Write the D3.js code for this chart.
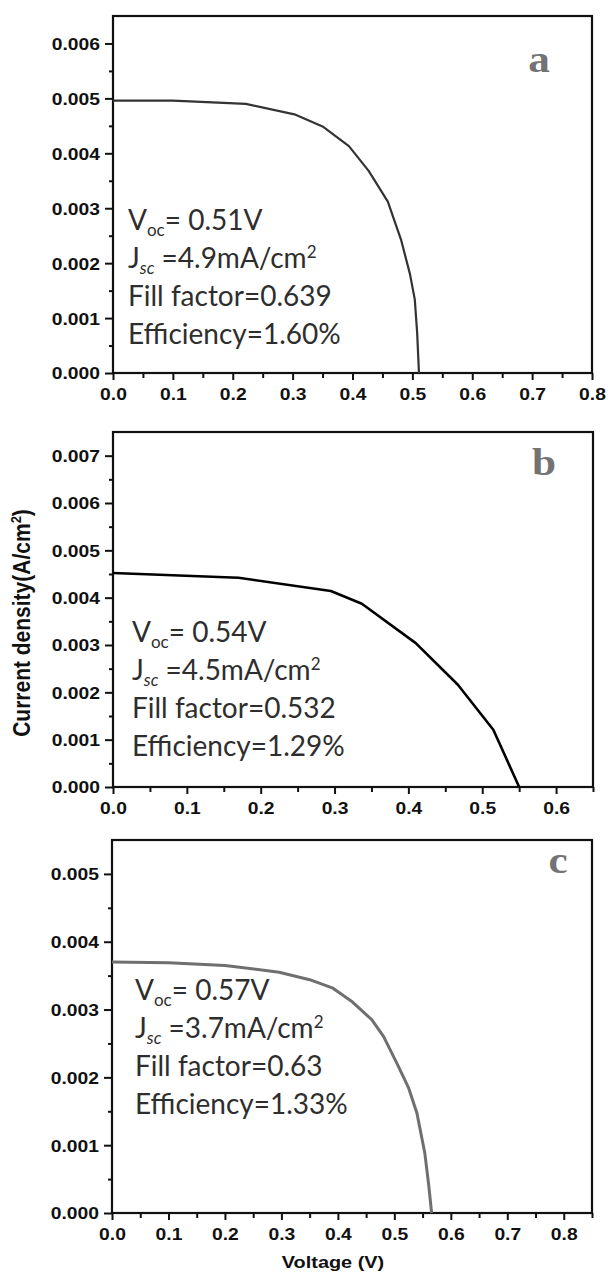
<!DOCTYPE html>
<html>
<head>
<meta charset="utf-8">
<script src="https://cdn.jsdelivr.net/npm/d3@7"></script>
<style>
  body { margin: 0; background: #fff; }
  svg { display: block; }
</style>
</head>
<body>
<svg id="chart" width="608" height="1274"></svg>
<script>
// J-V curves (voltage in V, current density in A/cm2)
const voltA = [0, 0.1, 0.222, 0.303, 0.35, 0.394, 0.427, 0.459, 0.481, 0.496, 0.504, 0.508, 0.511];
const currA = [0.00496, 0.00496, 0.0049, 0.00471, 0.00449, 0.00413, 0.00368, 0.00312, 0.00243, 0.0018, 0.00134, 0.00073, 0];

const voltB = [0, 0.17, 0.295, 0.337, 0.41, 0.467, 0.515, 0.55];
const currB = [0.00452, 0.00442, 0.00414, 0.00387, 0.00304, 0.00216, 0.00121, 0];

const voltC = [0, 0.1, 0.2, 0.296, 0.35, 0.39, 0.426, 0.46, 0.481, 0.505, 0.525, 0.54, 0.554, 0.561, 0.566];
const currC = [0.0037, 0.00369, 0.00365, 0.00355, 0.00344, 0.00332, 0.00311, 0.00285, 0.0026, 0.0022, 0.00185, 0.00147, 0.00088, 0.0004, 0];

// tick labels
const yTicksA = [0, 0.001, 0.002, 0.003, 0.004, 0.005, 0.006];
const yTicksB = [0, 0.001, 0.002, 0.003, 0.004, 0.005, 0.006, 0.007];
const yTicksC = [0, 0.001, 0.002, 0.003, 0.004, 0.005];
const xTicksA = [0, 0.1, 0.2, 0.3, 0.4, 0.5, 0.6, 0.7, 0.8];
const xTicksB = [0, 0.1, 0.2, 0.3, 0.4, 0.5, 0.6];
const xTicksC = [0, 0.1, 0.2, 0.3, 0.4, 0.5, 0.6, 0.7, 0.8];

// cell parameters
const panelNames = ["a", "b", "c"];
const vocVals = ["0.51V", "0.54V", "0.57V"];
const jscVals = ["4.9mA/cm", "4.5mA/cm", "3.7mA/cm"];
const ffVals = ["0.639", "0.532", "0.63"];
const effVals = ["1.60%", "1.29%", "1.33%"];

const svg = d3.select("#chart");
const SX = 1.17; // figure is a little stretched sideways

const panels = [
  { volt: voltA, curr: currA, yTicks: yTicksA, xTicks: xTicksA, xMax: 0.8, yMax: 0.0065,
    left: 113, right: 592, top: 16, bottom: 373, color: "#333", lw: 2.2,
    textX: 128, textY: 230, letterX: 539, letterY: 72 },
  { volt: voltB, curr: currB, yTicks: yTicksB, xTicks: xTicksB, xMax: 0.65, yMax: 0.0075,
    left: 113, right: 593, top: 432, bottom: 787, color: "#000", lw: 2.6,
    textX: 132, textY: 642, letterX: 544, letterY: 475 },
  { volt: voltC, curr: currC, yTicks: yTicksC, xTicks: xTicksC, xMax: 0.85, yMax: 0.0055,
    left: 112, right: 592, top: 840, bottom: 1213, color: "#6f6f6f", lw: 3,
    textX: 135, textY: 1000, letterX: 558, letterY: 873 }
];

panels.forEach(function(p, i) {

    let x = d3.scaleLinear().domain([0, p.xMax]).range([p.left, p.right]);
    let y = d3.scaleLinear().domain([0, p.yMax]).range([p.bottom, p.top]);

    let g = svg.append("g");

    // minor ticks halfway between the major ones
    let minorY = p.yTicks.map(d => d + 0.0005).filter(d => d < p.yMax);
    let minorX = p.xTicks.map(d => d + 0.05).filter(d => d <= p.xMax + 1e-9);

    g.append("g")
        .attr("transform", `translate(${p.left},0)`)
        .call(d3.axisLeft(y).tickValues(minorY).tickSize(4).tickFormat(""));
    g.append("g")
        .attr("transform", `translate(0,${p.bottom})`)
        .call(d3.axisBottom(x).tickValues(minorX).tickSize(5).tickFormat(""));

    // major ticks + labels
    let yAxis = g.append("g")
        .attr("transform", `translate(${p.left},0)`)
        .call(d3.axisLeft(y).tickValues(p.yTicks).tickSize(8).tickFormat(d3.format(".3f")));
    yAxis.selectAll("text")
        .attr("x", -13 / SX)
        .attr("dy", "0.36em")
        .attr("transform", `scale(${SX},1)`);

    let xAxis = g.append("g")
        .attr("transform", `translate(0,${p.bottom})`)
        .call(d3.axisBottom(x).tickValues(p.xTicks).tickSize(7).tickFormat(d3.format(".1f")));
    xAxis.selectAll("text")
        .attr("y", 27)
        .attr("dy", 0)
        .attr("transform", `scale(${SX},1)`);

    g.selectAll(".domain").remove();
    g.selectAll(".tick line").attr("stroke", "#111").attr("stroke-width", 2);
    g.selectAll(".tick text")
        .attr("fill", "#111")
        .style("font-family", "'Liberation Sans', Arial, sans-serif")
        .style("font-weight", "bold")
        .style("font-size", "16.5px");

    // frame
    g.append("rect")
        .attr("x", p.left)
        .attr("y", p.top)
        .attr("width", p.right - p.left)
        .attr("height", p.bottom - p.top)
        .attr("fill", "none")
        .attr("stroke", "#111")
        .attr("stroke-width", 2.2);

    // the J-V curve
    let pts = p.volt.map((v, k) => [v, p.curr[k]]);
    g.append("path")
        .datum(pts)
        .attr("fill", "none")
        .attr("stroke", p.color)
        .attr("stroke-width", p.lw)
        .attr("stroke-linejoin", "round")
        .attr("d", d3.line().x(d => x(d[0])).y(d => y(d[1])));

    // panel letter
    g.append("text")
        .attr("transform", `translate(${p.letterX},${p.letterY}) scale(${SX},1)`)
        .attr("text-anchor", "middle")
        .attr("fill", "#737373")
        .style("font-family", "'Liberation Serif', 'Times New Roman', serif")
        .style("font-weight", "bold")
        .style("font-size", "37px")
        .text(panelNames[i]);

    // cell parameters
    let note = g.append("g")
        .attr("fill", "#2e2e2e")
        .style("font-family", "Lato, 'Open Sans', sans-serif")
        .style("font-size", "28px");
    let lh = 38;

    let l1 = note.append("text").attr("x", p.textX).attr("y", p.textY);
    l1.append("tspan").text("V");
    l1.append("tspan").attr("dy", 6).style("font-size", "17px").text("oc");
    l1.append("tspan").attr("dy", -6).text("= " + vocVals[i]);

    let l2 = note.append("text").attr("x", p.textX).attr("y", p.textY + lh);
    l2.append("tspan").text("J");
    l2.append("tspan").attr("dy", 6).style("font-size", "17px").style("font-style", "italic").text("sc");
    l2.append("tspan").attr("dy", -6).text(" =" + jscVals[i]);
    l2.append("tspan").attr("dy", -10).style("font-size", "17px").text("2");

    note.append("text").attr("x", p.textX).attr("y", p.textY + lh * 2).text("Fill factor=" + ffVals[i]);
    note.append("text").attr("x", p.textX).attr("y", p.textY + lh * 3).text("Efficiency=" + effVals[i]);
});

// axis titles
let yTitle = svg.append("text")
    .attr("transform", "translate(30,623) rotate(-90) scale(1,1.16)")
    .attr("text-anchor", "middle")
    .attr("fill", "#111")
    .style("font-family", "'Liberation Sans', Arial, sans-serif")
    .style("font-weight", "bold")
    .style("font-size", "21px");
yTitle.append("tspan").text("Current density(A/cm");
yTitle.append("tspan").attr("dy", -8).style("font-size", "13px").text("2");
yTitle.append("tspan").attr("dy", 8).text(")");

svg.append("text")
    .attr("transform", `translate(333,1268) scale(${SX},1)`)
    .attr("text-anchor", "middle")
    .attr("fill", "#111")
    .style("font-family", "'Liberation Sans', Arial, sans-serif")
    .style("font-weight", "bold")
    .style("font-size", "17px")
    .text("Voltage (V)");
</script>
</body>
</html>
